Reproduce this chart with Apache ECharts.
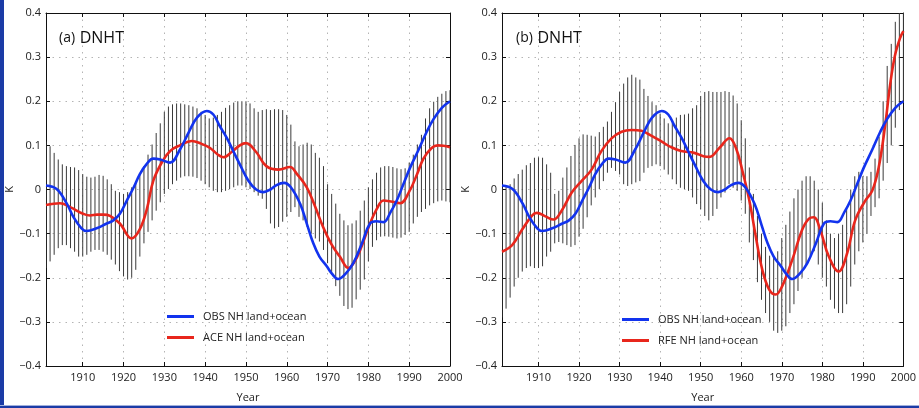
<!DOCTYPE html>
<html><head><meta charset="utf-8">
<script src="https://cdn.jsdelivr.net/npm/echarts@6/dist/echarts.min.js"></script>
<style>html,body{margin:0;padding:0;background:#fff}#c{width:919px;height:408px}</style>
</head><body><div id="c"></div>
<script>
// ---------- data ----------
const barYears = [];
for (let y = 1901; y <= 2000; y++) barYears.push(y);
const xTickValues = [1910, 1920, 1930, 1940, 1950, 1960, 1970, 1980, 1990, 2000];

const obsYears = [1901,1903.6,1906.1,1907.7,1909.7,1910.9,1913.4,1915.9,1917.5,1919.1,1920.8,1922.5,1924,1925.6,1927.3,1929,1931.4,1933.8,1936,1938,1940.4,1942,1943.5,1945.3,1947,1948.5,1950.6,1952.5,1954.3,1956,1957.5,1959.3,1961,1963.3,1965,1966.5,1968,1969.8,1971,1972.6,1974.5,1976.3,1978.5,1980.4,1982,1983.7,1985.5,1986.9,1988.5,1990.2,1992.3,1994.3,1996,1998,2000];
const obsValues = [0.009,0.001,-0.032,-0.062,-0.088,-0.094,-0.088,-0.077,-0.07,-0.055,-0.025,0.005,0.035,0.057,0.07,0.068,0.061,0.09,0.13,0.163,0.178,0.17,0.145,0.117,0.085,0.057,0.02,0.0,-0.006,0.0,0.01,0.015,0.005,-0.033,-0.08,-0.122,-0.152,-0.174,-0.19,-0.203,-0.19,-0.167,-0.12,-0.077,-0.072,-0.074,-0.05,-0.026,0.01,0.049,0.09,0.131,0.16,0.185,0.2];

const aceYears = [1901,1904.4,1906.9,1910.1,1911.8,1913.5,1915.1,1916.7,1919.1,1922,1924,1925.7,1927.3,1929.6,1931.5,1933.8,1936.7,1939,1941.2,1943,1944.5,1946.5,1948.5,1950,1952.5,1955,1958,1960.8,1962.5,1964.9,1966.8,1968.9,1971,1973,1975.1,1976.5,1978,1980.4,1982,1983.7,1985.5,1987.8,1990,1991.9,1993.5,1995.5,1997,1998.4,2000];
const aceValues = [-0.035,-0.031,-0.04,-0.055,-0.059,-0.057,-0.057,-0.06,-0.077,-0.111,-0.09,-0.045,0.02,0.065,0.088,0.1,0.11,0.104,0.094,0.08,0.073,0.085,0.1,0.105,0.085,0.053,0.045,0.051,0.035,0.005,-0.035,-0.085,-0.125,-0.152,-0.178,-0.165,-0.137,-0.077,-0.045,-0.025,-0.027,-0.031,-0.005,0.034,0.07,0.094,0.1,0.099,0.096];

const rfeYears = [1901,1903.5,1905.9,1908.4,1909.6,1911.7,1913.7,1915.7,1918.2,1920.6,1923.1,1925.5,1928,1930.5,1932.9,1935.4,1937.8,1940.3,1942.7,1945.2,1948.4,1950.9,1952.2,1954.6,1957.1,1958.7,1960.3,1962,1963.6,1965.2,1966.9,1968.5,1970.1,1972.6,1975,1976.7,1977.9,1979.5,1981.6,1984,1986.1,1988.1,1990.6,1992.3,1993.9,1995.5,1996.7,1997.9,1999.2,2000];
const rfeValues = [-0.141,-0.126,-0.092,-0.059,-0.053,-0.061,-0.068,-0.048,-0.007,0.019,0.045,0.087,0.116,0.131,0.135,0.133,0.122,0.109,0.096,0.087,0.083,0.075,0.074,0.094,0.116,0.094,0.042,-0.025,-0.107,-0.182,-0.227,-0.238,-0.219,-0.159,-0.092,-0.066,-0.063,-0.092,-0.152,-0.186,-0.145,-0.07,-0.025,-0.003,0.05,0.146,0.236,0.303,0.344,0.359];

const aceUpper = [0.109,0.098,0.083,0.068,0.057,0.053,0.051,0.050,0.044,0.035,0.029,0.027,0.029,0.033,0.031,0.023,0.012,-0.003,-0.006,-0.010,-0.006,0.005,0.016,0.035,0.053,0.079,0.102,0.128,0.150,0.176,0.188,0.193,0.195,0.195,0.193,0.191,0.188,0.184,0.176,0.169,0.161,0.163,0.169,0.176,0.185,0.191,0.197,0.200,0.199,0.200,0.195,0.184,0.176,0.180,0.182,0.180,0.182,0.182,0.180,0.169,0.147,0.109,0.098,0.102,0.106,0.102,0.083,0.072,0.053,0.012,-0.010,-0.032,-0.055,-0.070,-0.081,-0.077,-0.070,-0.048,-0.025,0.005,0.023,0.038,0.050,0.053,0.053,0.051,0.048,0.046,0.048,0.061,0.079,0.102,0.124,0.161,0.184,0.199,0.210,0.217,0.223,0.225];
const aceLower = [-0.178,-0.163,-0.148,-0.133,-0.126,-0.126,-0.133,-0.141,-0.152,-0.152,-0.148,-0.141,-0.137,-0.137,-0.141,-0.148,-0.159,-0.170,-0.185,-0.197,-0.204,-0.200,-0.182,-0.152,-0.122,-0.096,-0.070,-0.048,-0.029,-0.010,0.001,0.012,0.020,0.027,0.030,0.030,0.029,0.026,0.020,0.012,0.005,-0.003,-0.006,-0.006,-0.003,0.001,0.005,0.009,0.009,0.005,0.001,-0.006,-0.014,-0.021,-0.044,-0.077,-0.088,-0.085,-0.073,-0.062,-0.051,-0.040,-0.062,-0.070,-0.085,-0.100,-0.111,-0.118,-0.137,-0.167,-0.193,-0.219,-0.241,-0.264,-0.271,-0.268,-0.249,-0.227,-0.204,-0.163,-0.130,-0.115,-0.107,-0.106,-0.107,-0.109,-0.111,-0.109,-0.103,-0.096,-0.077,-0.062,-0.051,-0.044,-0.036,-0.031,-0.027,-0.025,-0.027,-0.029];

const rfeUpper = [0.005,0.010,0.012,0.025,0.035,0.045,0.055,0.060,0.072,0.073,0.072,0.057,0.038,-0.010,-0.003,0.027,0.050,0.076,0.101,0.116,0.125,0.124,0.122,0.120,0.130,0.142,0.154,0.176,0.198,0.221,0.240,0.254,0.260,0.254,0.249,0.228,0.212,0.198,0.191,0.172,0.161,0.150,0.152,0.163,0.169,0.170,0.172,0.184,0.191,0.212,0.221,0.223,0.221,0.221,0.221,0.223,0.221,0.213,0.195,0.157,0.116,0.050,-0.010,-0.060,-0.100,-0.130,-0.150,-0.150,-0.140,-0.110,-0.080,-0.050,-0.020,0.000,0.020,0.030,0.030,0.020,0.000,-0.030,-0.070,-0.100,-0.110,-0.100,-0.080,-0.040,0.000,0.030,0.040,0.030,0.030,0.040,0.070,0.120,0.200,0.280,0.330,0.380,0.400,0.400];
const rfeLower = [-0.290,-0.270,-0.245,-0.220,-0.200,-0.186,-0.178,-0.174,-0.178,-0.178,-0.174,-0.152,-0.141,-0.122,-0.119,-0.122,-0.126,-0.130,-0.126,-0.107,-0.089,-0.063,-0.036,-0.018,0.001,0.019,0.038,0.049,0.042,0.034,0.012,0.008,0.012,0.016,0.019,0.038,0.049,0.053,0.057,0.053,0.045,0.034,0.023,0.012,0.004,0.001,-0.003,-0.018,-0.033,-0.045,-0.060,-0.070,-0.060,-0.044,-0.018,-0.007,0.012,0.004,-0.003,-0.025,-0.055,-0.120,-0.160,-0.210,-0.250,-0.280,-0.300,-0.320,-0.325,-0.320,-0.310,-0.280,-0.260,-0.230,-0.200,-0.170,-0.150,-0.140,-0.170,-0.200,-0.220,-0.250,-0.270,-0.280,-0.280,-0.260,-0.220,-0.170,-0.140,-0.120,-0.100,-0.060,-0.040,-0.020,0.020,0.060,0.100,0.140,0.180,0.200];

// ---------- helpers ----------
const pairs = (xs, vs) => xs.map((x, i) => [x, vs[i]]);
const bars = (lo, hi) => barYears.map((y, i) => [y, lo[i], hi[i]]);
const FONT = 'Open Sans';
const BLUE = '#1233ee', RED = '#e8261c';

function yFmt(v) {
  if (Math.abs(v) < 1e-9) return '0';
  return v.toFixed(1).replace('-', '\u2212');
}
function xFmt(v) { return String(Math.round(v)); }

function xAxes(gi) {
  return [{
    type: 'value', gridIndex: gi, min: 1901, max: 2000, position: 'bottom',
    axisLine: { show: true, onZero: false, lineStyle: { color: '#111', width: 1 } },
    axisTick: { show: true, inside: true, length: 4, customValues: xTickValues, lineStyle: { color: '#111' } },
    axisLabel: { customValues: xTickValues, formatter: xFmt, color: '#222', fontSize: 11, fontFamily: FONT, margin: 6 },
    splitLine: { show: true, lineStyle: { color: '#b4b4b4', type: [1.5, 5], width: 1 } },
    name: 'Year', nameLocation: 'middle', nameGap: 26,
    nameTextStyle: { color: '#222', fontSize: 11, fontFamily: FONT }
  }, {
    type: 'value', gridIndex: gi, min: 1901, max: 2000, position: 'top',
    axisLine: { show: true, onZero: false, lineStyle: { color: '#111', width: 1 } },
    axisTick: { show: true, inside: true, length: 4, customValues: xTickValues, lineStyle: { color: '#111' } },
    axisLabel: { show: false }, splitLine: { show: false }
  }];
}
function yAxes(gi, nameGap) {
  return [{
    type: 'value', gridIndex: gi, min: -0.4, max: 0.4, interval: 0.1, position: 'left',
    axisLine: { show: true, onZero: false, lineStyle: { color: '#111', width: 1 } },
    axisTick: { show: true, inside: true, length: 4, lineStyle: { color: '#111' } },
    axisLabel: { formatter: yFmt, color: '#222', fontSize: 11, fontFamily: FONT, margin: 5 },
    splitLine: { show: true, lineStyle: { color: '#b4b4b4', type: [1.5, 5], width: 1 } },
    name: 'K', nameLocation: 'middle', nameGap: nameGap, nameRotate: 90,
    nameTextStyle: { color: '#222', fontSize: 11, fontFamily: FONT }
  }, {
    type: 'value', gridIndex: gi, min: -0.4, max: 0.4, interval: 0.1, position: 'right',
    axisLine: { show: true, onZero: false, lineStyle: { color: '#111', width: 1 } },
    axisTick: { show: true, inside: true, length: 4, lineStyle: { color: '#111' } },
    axisLabel: { show: false }, splitLine: { show: false }
  }];
}

function renderBar(params, api) {
  const x = api.value(0);
  const p1 = api.coord([x, api.value(1)]);
  const p2 = api.coord([x, api.value(2)]);
  return { type: 'line', shape: { x1: p1[0], y1: p1[1], x2: p2[0], y2: p2[1] },
           style: { stroke: '#3a3a3a', lineWidth: 1 } };
}
function barSeries(gi, lo, hi) {
  return { type: 'custom', xAxisIndex: gi * 2, yAxisIndex: gi * 2, renderItem: renderBar,
           data: bars(lo, hi), encode: { x: 0, y: [1, 2] }, clip: true, silent: true, z: 1 };
}
function lineSeries(gi, name, color, xs, vs) {
  return { type: 'line', name: name, xAxisIndex: gi * 2, yAxisIndex: gi * 2, data: pairs(xs, vs),
           smooth: 0.4, showSymbol: false, symbol: 'none', color: color,
           lineStyle: { color: color, width: 2.6 }, z: 3, clip: true };
}

const chart = echarts.init(document.getElementById('c'), null, { renderer: 'canvas' });
chart.setOption({
  animation: false,
  backgroundColor: '#ffffff',
  grid: [
    { left: 46, top: 13, width: 404, height: 358 },
    { left: 502, top: 13, width: 403, height: 358 }
  ],
  xAxis: [...xAxes(0), ...xAxes(1)],
  yAxis: [...yAxes(0, 27), ...yAxes(1, 29)],
  title: [
    { text: '{a|(a)} {b|DNHT}', left: 54, top: 24,
      textStyle: { fontFamily: FONT, fontWeight: 'normal', color: '#111',
        rich: { a: { fontSize: 14, fontFamily: FONT, color: '#111' }, b: { fontSize: 16, fontFamily: FONT, color: '#111' } } } },
    { text: '{a|(b)} {b|DNHT}', left: 511, top: 24,
      textStyle: { fontFamily: FONT, fontWeight: 'normal', color: '#111',
        rich: { a: { fontSize: 14, fontFamily: FONT, color: '#111' }, b: { fontSize: 16, fontFamily: FONT, color: '#111' } } } }
  ],
  legend: [
    { data: ['OBS NH land+ocean', 'ACE NH land+ocean'], orient: 'vertical', left: 162, top: 306,
      icon: 'rect', itemWidth: 27, itemHeight: 3, itemGap: 10, selectedMode: false,
      textStyle: { fontSize: 11, fontFamily: FONT, color: '#222', padding: [0, 0, 0, 4] } },
    { data: ['OBS NH land+ocean', 'RFE NH land+ocean'], orient: 'vertical', left: 617, top: 309,
      icon: 'rect', itemWidth: 27, itemHeight: 3, itemGap: 10, selectedMode: false,
      textStyle: { fontSize: 11, fontFamily: FONT, color: '#222', padding: [0, 0, 0, 4] } }
  ],
  graphic: [
    { type: 'rect', left: 0, top: 0, shape: { width: 4, height: 408 }, style: { fill: '#1b3ba6' }, silent: true },
    { type: 'rect', left: 0, top: 405, shape: { width: 919, height: 1 }, style: { fill: '#9fb0dc' }, silent: true },
    { type: 'rect', left: 0, top: 406, shape: { width: 919, height: 2 }, style: { fill: '#1b3ba6' }, silent: true }
  ],
  series: [
    barSeries(0, aceLower, aceUpper),
    barSeries(1, rfeLower, rfeUpper),
    lineSeries(0, 'ACE NH land+ocean', RED, aceYears, aceValues),
    lineSeries(0, 'OBS NH land+ocean', BLUE, obsYears, obsValues),
    lineSeries(1, 'RFE NH land+ocean', RED, rfeYears, rfeValues),
    lineSeries(1, 'OBS NH land+ocean', BLUE, obsYears, obsValues)
  ]
});
</script></body></html>
